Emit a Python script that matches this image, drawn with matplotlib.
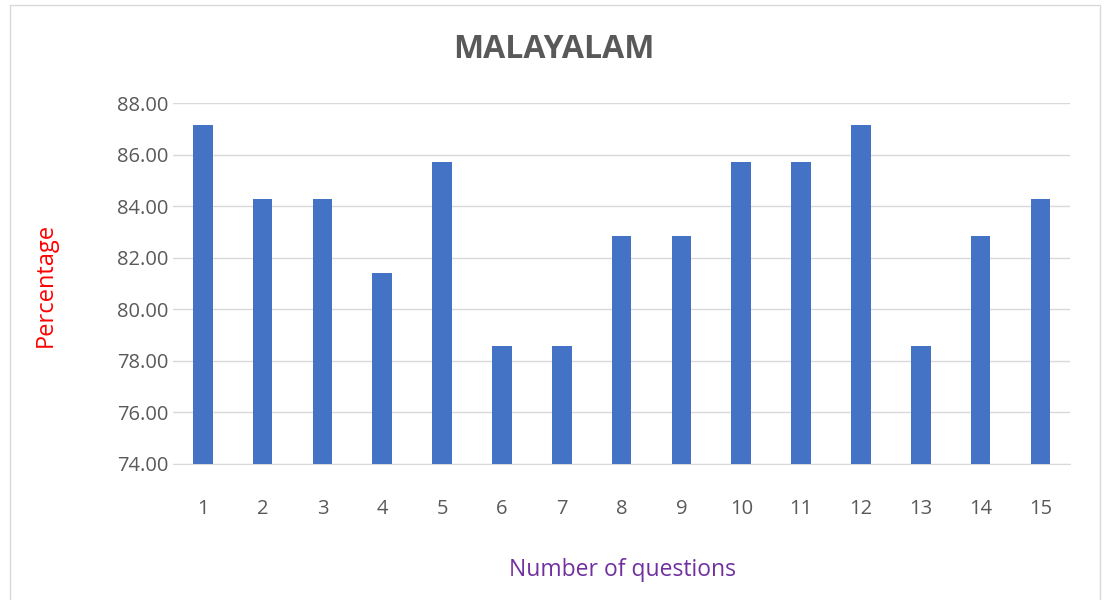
import matplotlib.pyplot as plt
import numpy as np

# question numbers and percentages
questions = list(range(1, 16))
percent = [87.14, 84.29, 84.29, 81.43, 85.71, 78.57, 78.57, 82.86,
           82.86, 85.71, 85.71, 87.14, 78.57, 82.86, 84.29]

plt.rcParams['font.family'] = ['Open Sans', 'DejaVu Sans']

fig = plt.figure(figsize=(11.08, 6), dpi=100, facecolor='white')
ax = fig.add_axes([0.156, 0.2267, 0.81, 0.6013])

# chart border
border = plt.Rectangle((0.009, -0.01), 0.984, 1.002, transform=fig.transFigure,
                       fill=False, edgecolor='#D9D9D9', linewidth=1)
fig.patches.append(border)

ax.bar(questions, percent, width=0.33, color='#4472C4', zorder=3)

ax.set_xlim(0.5, 15.5)
ax.set_ylim(74, 88)
ax.set_yticks(np.arange(74, 88.1, 2))
ax.set_yticklabels(['%.2f' % v for v in np.arange(74, 88.1, 2)])
ax.set_xticks(questions)

ax.grid(axis='y', color='#D9D9D9', linewidth=1, zorder=0)
for s in ['top', 'right', 'left']:
    ax.spines[s].set_visible(False)
ax.spines['bottom'].set_color('#D9D9D9')
ax.tick_params(length=0, labelsize=14.5, colors='#595959')
ax.tick_params(axis='x', pad=25)
ax.tick_params(axis='y', pad=3)

fig.text(0.5, 0.918, 'MALAYALAM', ha='center', va='center', fontsize=23,
         fontweight='bold', color='#595959')
fig.text(0.041, 0.525, 'Percentage', rotation=90, ha='center', va='center',
         fontsize=17, color='red')
fig.text(0.562, 0.05, 'Number of questions', ha='center', va='center',
         fontsize=16.5, color='#7030A0')

fig.savefig('out.png', dpi=100)
